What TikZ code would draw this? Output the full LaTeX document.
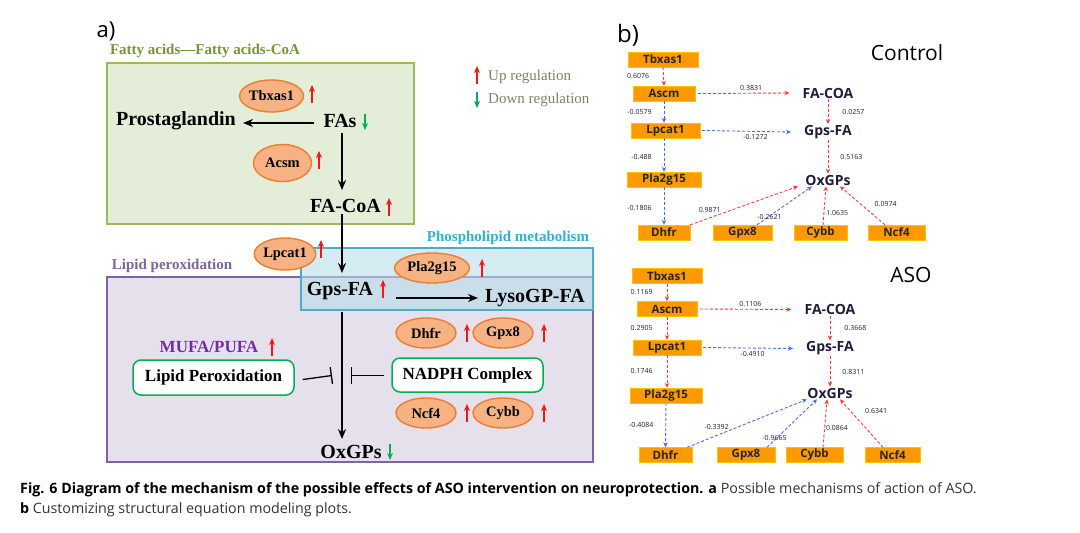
\documentclass[tikz,border=0pt]{standalone}
\usepackage{fontspec}
\setmainfont{Liberation Serif}
\newfontfamily\osans{Open Sans}
\usetikzlibrary{shapes.geometric,arrows.meta,positioning}
\definecolor{fagreen}{RGB}{119,147,60}
\definecolor{fabox}{RGB}{227,237,215}
\definecolor{faline}{RGB}{155,187,89}
\definecolor{phcyan}{RGB}{49,176,213}
\definecolor{phbox}{RGB}{183,221,232}
\definecolor{phline}{RGB}{75,172,198}
\definecolor{lpviolet}{RGB}{128,100,162}
\definecolor{lpbox}{RGB}{229,224,236}
\definecolor{mufa}{RGB}{112,48,160}
\definecolor{enzfill}{RGB}{246,178,130}
\definecolor{enzline}{RGB}{237,125,49}
\definecolor{procgreen}{RGB}{0,176,80}
\definecolor{upred}{RGB}{255,20,20}
\definecolor{downgreen}{RGB}{0,176,80}
\definecolor{legtext}{RGB}{128,128,100}
\definecolor{boxorange}{RGB}{255,153,0}
\definecolor{navy}{RGB}{30,30,60}
\definecolor{posred}{RGB}{255,60,60}
\definecolor{negblue}{RGB}{70,110,255}
\begin{document}
\begin{tikzpicture}[x=1pt,y=-1pt]
\tikzset{metab/.style={font=\bfseries\fontsize{20}{20}\selectfont,inner sep=1pt},
  enzyme/.style={ellipse,draw=enzline,fill=enzfill,line width=1.4pt,inner sep=0pt,font=\bfseries\fontsize{14.5}{14.5}\selectfont},
  region/.style={font=\bfseries\fontsize{15}{15}\selectfont,inner sep=0pt},
  procbox/.style={draw=procgreen,fill=white,line width=1.5pt,rounded corners=8pt,inner sep=0pt,font=\bfseries\fontsize{17}{17}\selectfont},
  main/.style={line width=1.5pt,-{Stealth[length=10pt,width=8pt]}},
  inhib/.style={line width=1.3pt,-{Bar[width=17pt,line width=1.3pt]}},
  uparr/.pic={\draw[upred,line width=1.3pt,-{Stealth[length=7pt,width=6pt]}] (0,9)--(0,-9);},
  downarr/.pic={\draw[downgreen,line width=1.3pt,-{Stealth[length=7pt,width=6pt]}] (0,-8)--(0,8);},
  gene/.style={fill=boxorange,draw=boxorange!60!yellow,minimum height=15pt,inner sep=0pt,font=\osans\bfseries\fontsize{11.5}{11.5}\selectfont,text=black!85},
  var/.style={font=\osans\bfseries\fontsize{14}{14}\selectfont,text=navy,inner sep=1pt},
  coef/.style={font=\osans\fontsize{7}{7}\selectfont,text=navy,inner sep=0pt},
  posarr/.style={posred,line width=0.9pt,dash pattern=on 3pt off 2pt,-{Stealth[length=5pt,width=4.5pt]}},
  negarr/.style={negblue,line width=0.9pt,dash pattern=on 3pt off 2pt,-{Stealth[length=5pt,width=4.5pt]}}}
\useasboundingbox (0,0) rectangle (1080,533);

% a) mechanism
\draw (106,31) node[font=\osans\fontsize{22}{22}\selectfont,inner sep=0pt](alab){a)};
\draw (205,51) node[region,text=fagreen](fatitle){Fatty acids---Fatty acids-CoA};
\draw[faline,fill=fabox,line width=1.2pt] (107,63) rectangle (414,224);
\draw[lpviolet,fill=lpbox,line width=1.2pt] (107,277) rectangle (593,462);
\draw[phline,fill=phbox,fill opacity=.6,line width=1.2pt] (301,248) rectangle (593,310);

\draw (477,75) pic{uparr};
\draw (488,77) node[anchor=west,inner sep=0pt,text=legtext,font=\fontsize{15}{15}\selectfont](uplab){Up regulation};
\draw (477,100) pic{downarr};
\draw (488,100) node[anchor=west,inner sep=0pt,text=legtext,font=\fontsize{15}{15}\selectfont](downlab){Down regulation};

\draw (271.5,96) node[enzyme,minimum width=53pt,minimum height=32pt](tbx){Tbxas1};
\draw (312,94) pic{uparr};
\draw (176,121) node[metab](prost){Prostaglandin};
\draw (340,121) node[metab](fas){FAs};
\draw (365,122) pic{downarr};
\draw (282.5,163) node[enzyme,minimum width=58pt,minimum height=37pt](acsm){Acsm};
\draw (319,160) pic{uparr};
\draw (345.5,206) node[metab](facoa){FA-CoA};
\draw (389,207) pic{uparr};

\draw (508,238) node[region,text=phcyan](phtitle){Phospholipid metabolism};
\draw (172,266) node[region,text=lpviolet](lptitle){Lipid peroxidation};
\draw (285,254) node[enzyme,minimum width=60pt,minimum height=32pt](lpcat){Lpcat1};
\draw (321,249) pic{uparr};
\draw (432,268) node[enzyme,minimum width=75pt,minimum height=30pt](pla){Pla2g15};
\draw (482,268) pic{uparr};
\draw (340,291) node[metab](gpsfa){Gps-FA};
\draw (383,289) pic{uparr};
\draw (535,298) node[metab](lyso){LysoGP-FA};

\draw (209,347) node[font=\bfseries\fontsize{17}{17}\selectfont,text=mufa,inner sep=0pt](mufa){MUFA/PUFA};
\draw (272,347) pic{uparr};
\draw (213.5,377.5) node[procbox,minimum width=161pt,minimum height=35pt](lp){Lipid Peroxidation};
\draw (467.5,375) node[procbox,minimum width=151pt,minimum height=34pt](nadph){NADPH Complex};
\draw (426,333) node[enzyme,minimum width=60pt,minimum height=30pt](dhfr){Dhfr};
\draw (467,333) pic{uparr};
\draw (503,333) node[enzyme,minimum width=60pt,minimum height=30pt](gpx){Gpx8};
\draw (544,333) pic{uparr};
\draw (426,413) node[enzyme,minimum width=60pt,minimum height=30pt](ncf){Ncf4};
\draw (467,413) pic{uparr};
\draw (503,413) node[enzyme,minimum width=60pt,minimum height=30pt](cybb){Cybb};
\draw (544,413) pic{uparr};
\draw (351,452) node[metab](oxgps){OxGPs};
\draw (390,452) pic{downarr};

\draw[main] ([xshift=-8pt,yshift=-2pt]fas.west) -- ([xshift=6pt,yshift=-2pt]prost.east);
\draw[main] ([xshift=2pt,yshift=-4pt]fas.south) -- ([xshift=-3.5pt,yshift=8pt]facoa.north);
\draw[main] ([xshift=-3.5pt]facoa.south) -- ([xshift=2pt,yshift=8pt]gpsfa.north);
\draw[main] ([xshift=22pt,yshift=-7pt]gpsfa.east) -- ([xshift=-6pt]lyso.west);
\draw[main] ([xshift=2pt,yshift=-11pt]gpsfa.south) -- ([xshift=-9pt,yshift=5pt]oxgps.north);
\coordinate (barl) at (332,375.5);
\coordinate (barr) at (351,375.5);
\draw[inhib] ([xshift=8pt,yshift=-2pt]lp.east) -- (barl);
\draw[inhib] ([xshift=-7pt,yshift=-0.5pt]nadph.west) -- (barr);

% b) SEM plots
\draw (628,35) node[font=\osans\fontsize{24}{24}\selectfont,inner sep=0pt](blab){b)};
\draw (907,53) node[font=\osans\fontsize{21}{21}\selectfont,inner sep=0pt](ctl){Control};
\draw (663,59.5) node[gene,minimum width=70pt](tbxC){Tbxas1};
\draw (664,93.5) node[gene,minimum width=62pt](ascmC){Ascm};
\draw (665.5,130.5) node[gene,minimum width=69pt](lpcC){Lpcat1};
\draw (664,179.5) node[gene,minimum width=74pt](plaC){Pla2g15};
\draw (664,232.5) node[gene,minimum width=52pt](dhfrC){Dhfr};
\draw (742.5,232.5) node[gene,minimum width=59pt](gpxC){Gpx8};
\draw (820.5,232.5) node[gene,minimum width=53pt](cybbC){Cybb};
\draw (896.5,232.5) node[gene,minimum width=57pt](ncfC){Ncf4};
\draw (828,93) node[var](facoaC){FA-COA};
\draw (828,132) node[var](gpsC){Gps-FA};
\draw (828,180) node[var](oxC){OxGPs};

\draw[posarr] (tbxC.south) -- (ascmC.north) node[coef,pos=.5,left=14pt]{0.6076};
\draw[posarr] ([xshift=3pt]ascmC.east) -- ([xshift=-12pt]facoaC.west) node[coef,pos=.58,above=2pt]{0.3831};
\draw[negarr] (ascmC.south) -- (ascmC.south |- lpcC.north) node[coef,pos=.5,left=12pt]{-0.0579};
\draw[negarr] ([xshift=2pt]lpcC.east) -- ([xshift=-12pt]gpsC.west) node[coef,pos=.6,below=3pt]{-0.1272};
\draw[posarr] (facoaC.south) -- (gpsC.north) node[coef,pos=.5,right=14pt]{0.0257};
\draw[negarr] (ascmC.south |- lpcC.south) -- (ascmC.south |- plaC.north) node[coef,pos=.55,left=12pt]{-0.488};
\draw[posarr] (gpsC.south) -- (oxC.north) node[coef,pos=.5,right=12pt]{0.5163};
\draw[negarr] (plaC.south) -- (dhfrC.north) node[coef,pos=.55,left=12pt]{-0.1806};
\draw[posarr] (dhfrC.north east) -- ([xshift=-30pt]oxC.south) node[coef,pos=.25,above left=2pt and -4pt]{0.9871};
\draw[negarr] ([xshift=14.5pt]gpxC.north) -- ([xshift=-16pt]oxC.south) node[coef,pos=.2,left=-14pt]{-0.2621};
\draw[posarr] ([xshift=2.5pt]cybbC.north) -- ([xshift=-2pt]oxC.south) node[coef,pos=.3,right=2pt]{1.0635};
\draw[posarr] ([xshift=-11.5pt]ncfC.north) -- ([xshift=12pt]oxC.south) node[coef,pos=.55,right=14pt]{0.0974};

\draw (911,275) node[font=\osans\fontsize{21}{21}\selectfont,inner sep=0pt](aso){ASO};
\draw (667,276) node[gene,minimum width=70pt](tbxA){Tbxas1};
\draw (667,309) node[gene,minimum width=60pt](ascmA){Ascm};
\draw (667,347.5) node[gene,minimum width=68pt](lpcA){Lpcat1};
\draw (666,395.5) node[gene,minimum width=72pt](plaA){Pla2g15};
\draw (665.5,455) node[gene,minimum width=53pt](dhfrA){Dhfr};
\draw (746,455) node[gene,minimum width=58pt](gpxA){Gpx8};
\draw (814.5,455) node[gene,minimum width=57pt](cybbA){Cybb};
\draw (892.5,455) node[gene,minimum width=55pt](ncfA){Ncf4};
\draw (830,309.5) node[var](facoaA){FA-COA};
\draw (830,348.5) node[var](gpsA){Gps-FA};
\draw (830,393) node[var](oxA){OxGPs};

\draw[posarr] (tbxA.south) -- (ascmA.north) node[coef,pos=.5,left=14pt]{0.1169};
\draw[posarr] ([xshift=3pt]ascmA.east) -- ([xshift=-12pt]facoaA.west) node[coef,pos=.55,above=2pt]{0.1106};
\draw[posarr] (ascmA.south) -- (lpcA.north) node[coef,pos=.5,left=14pt]{0.2905};
\draw[posarr] (facoaA.south) -- (gpsA.north) node[coef,pos=.5,right=14pt]{0.3668};
\draw[negarr] ([xshift=2pt]lpcA.east) -- ([xshift=-12pt]gpsA.west) node[coef,pos=.55,below=3pt]{-0.4910};
\draw[posarr] (lpcA.south) -- (lpcA.south |- plaA.north) node[coef,pos=.5,left=14pt]{0.1746};
\draw[posarr] (gpsA.south) -- (oxA.north) node[coef,pos=.5,right=12pt]{0.8311};
\draw[negarr] (plaA.south) -- (dhfrA.north) node[coef,pos=.5,left=12pt]{-0.4084};
\draw[negarr] ([xshift=-5pt]dhfrA.north east) -- ([xshift=-23pt]oxA.south) node[coef,pos=.3,above left=3pt and -6pt]{-0.3392};
\draw[negarr] ([xshift=21pt]gpxA.north) -- ([xshift=-13pt]oxA.south) node[coef,pos=.2,left=-10pt]{-0.9665};
\draw[posarr] ([xshift=8.5pt]cybbA.north) -- ([xshift=-3pt]oxA.south) node[coef,pos=.4,right=1pt]{0.0864};
\draw[posarr] ([xshift=-9.5pt]ncfA.north) -- ([xshift=10pt]oxA.south) node[coef,pos=.75,right=14pt]{0.6341};

% caption
\draw (20,493) node[anchor=base west,inner sep=0pt,font=\osans\fontsize{14.25}{16}\selectfont](cap1){\textbf{Fig. 6 Diagram of the mechanism of the possible effects of ASO intervention on neuroprotection. a} \textcolor{black!80}{Possible mechanisms of action of ASO.}};
\draw (20,513) node[anchor=base west,inner sep=0pt,font=\osans\fontsize{14.25}{16}\selectfont](cap2){\textbf{b} \textcolor{black!80}{Customizing structural equation modeling plots.}};
\end{tikzpicture}
\end{document}
